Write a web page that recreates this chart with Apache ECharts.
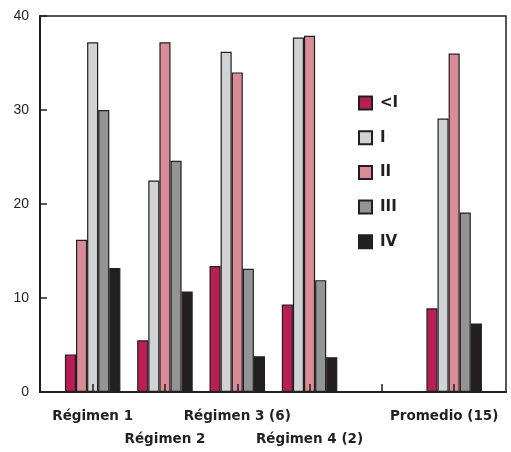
<!DOCTYPE html>
<html>
<head>
<meta charset="utf-8">
<script src="https://cdn.jsdelivr.net/npm/echarts@6/dist/echarts.min.js"></script>
<style>html,body{margin:0;padding:0;background:#fff}#c{width:511px;height:452px}</style>
</head>
<body>
<div id="c"></div>
<script>
// Categories (the 5th slot is an empty gap in the original chart)
var categories = ['Régimen 1', 'Régimen 2', 'Régimen 3 (6)', 'Régimen 4 (2)', '', 'Promedio (15)'];
var seriesNames = ['<I', 'I', 'II', 'III', 'IV'];
// Values by bar position within each group
var valLtI = [4.0, 5.5, 13.4, 9.3, null, 8.9];
var valI   = [16.2, 22.5, 36.2, 37.7, null, 29.1];
var valII  = [37.2, 37.2, 34.0, 37.9, null, 36.0];
var valIII = [30.0, 24.6, 13.1, 11.9, null, 19.1];
var valIV  = [13.2, 10.7, 3.8, 3.7, null, 7.3];
var yTicks = [0, 10, 20, 30, 40];

var colors = ['#b91f55', '#d1d2d4', '#da8b98', '#939497', '#231f20'];
var edge = '#231f20';
var labFont = 'DejaVu Sans, sans-serif';
// In the first group the 2nd and 3rd bars appear with swapped colours
function withSwap(arr, idx, col) {
  return arr.map(function (v, i) {
    if (i === idx) return { value: v, itemStyle: { color: col } };
    return v;
  });
}
var data = [
  valLtI,
  withSwap(valI, 0, colors[2]),
  withSwap(valII, 0, colors[1]),
  valIII,
  valIV
];

var chart = echarts.init(document.getElementById('c'));
var series = seriesNames.map(function (n, k) {
  return {
    name: n, type: 'bar', xAxisIndex: 1, yAxisIndex: 1,
    data: data[k], barWidth: 11.1, barGap: '0%',
    itemStyle: { color: colors[k], borderColor: edge, borderWidth: 1.2 },
    emphasis: { disabled: true }, animation: false
  };
});

chart.setOption({
  animation: false,
  grid: [
    { left: 40, top: 16, width: 466, height: 376, show: true, borderColor: edge, borderWidth: 1.5,
      backgroundColor: 'transparent', containLabel: false, outerBoundsMode: 'none' },
    { left: 56.5, top: 16, width: 433.8, height: 376, containLabel: false, outerBoundsMode: 'none' }
  ],
  xAxis: [
    { gridIndex: 0, type: 'value', min: 0, max: 1, axisLine: { show: true, lineStyle: { color: edge, width: 2 } },
      axisTick: { show: false }, axisLabel: { show: false }, splitLine: { show: false } },
    { gridIndex: 1, type: 'category', data: categories, z: 5,
      axisLine: { show: false },
      axisTick: { show: true, inside: true, alignWithLabel: true, length: 8, lineStyle: { color: edge, width: 1.5 } },
      axisLabel: {
        interval: 0, margin: 13, fontFamily: labFont, fontWeight: 'bold', fontSize: 13.5,
        color: '#231f20', lineHeight: 23, hideOverlap: false,
        formatter: function (v, i) {
          if (i === 5) return '{p|' + v + '}';
          if (i === 1 || i === 3) return '\n' + v;
          return v;
        },
        rich: { p: { fontFamily: labFont, fontWeight: 'bold', fontSize: 13.5, color: '#231f20', padding: [0, 20, 0, 0], lineHeight: 23 } }
      },
      splitLine: { show: false } }
  ],
  yAxis: [
    { gridIndex: 0, type: 'value', min: yTicks[0], max: yTicks[yTicks.length - 1], interval: 10,
      axisLine: { show: true, lineStyle: { color: edge, width: 2 } },
      axisTick: { show: true, inside: true, length: 7, lineStyle: { color: edge, width: 1.5 } },
      axisLabel: { margin: 11, fontFamily: 'Liberation Sans, Arial, sans-serif', fontSize: 14, color: '#231f20' },
      splitLine: { show: false } },
    { gridIndex: 1, type: 'value', min: 0, max: 40, interval: 10, show: false, splitLine: { show: false } }
  ],
  legend: {
    orient: 'vertical', left: 358, top: 95, padding: 0, icon: 'rect', itemWidth: 13, itemHeight: 13, itemGap: 18.7,
    selectedMode: false,
    textStyle: { fontFamily: labFont, fontWeight: 'bold', fontSize: 15, color: '#231f20', lineHeight: 16, padding: [0, 0, 0, 3] },
    data: seriesNames
  },
  series: series
});
</script>
</body>
</html>
